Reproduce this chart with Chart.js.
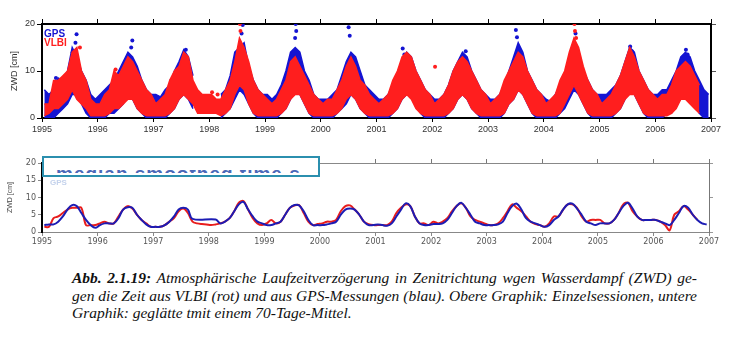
<!DOCTYPE html>
<html>
<head>
<meta charset="utf-8">
<script src="https://cdn.jsdelivr.net/npm/chart.js@4/dist/chart.umd.min.js"></script>
<style>
  html, body { margin: 0; padding: 0; background: #fff; }
  body { width: 732px; height: 341px; position: relative; overflow: hidden; font-family: "Liberation Sans", Arial, sans-serif; }
  #top { position: absolute; left: 0; top: 0; width: 732px; height: 142px; }
  #bot { position: absolute; left: 0; top: 150px; width: 732px; height: 100px; }
  .leg { position: absolute; font-weight: bold; font-size: 10px; line-height: 10px; }
  #box { position: absolute; left: 42px; top: 156px; width: 274px; height: 17px; border: 2px solid #2b8fae; background: #fff; overflow: hidden; }
  #strip { position: absolute; left: 12px; top: 12px; height: 3px; width: 260px; overflow: hidden; }
  #strip span { position: absolute; left: 0; top: -7px; font: bold 19px "Liberation Sans", Arial, sans-serif; color: #4a68b8; white-space: nowrap; letter-spacing: 1px; }
  #cap { position: absolute; left: 72px; top: 269px; width: 625px; font: italic 15.5px "Liberation Serif", "Times New Roman", serif; color: #111; line-height: 17.5px; }
  #cap div { text-align: justify; text-align-last: justify; white-space: nowrap; }
  #cap div.last { text-align-last: left; }
</style>
</head>
<body>
<div id="top"><canvas id="c1"></canvas></div>
<div id="bot"><canvas id="c2"></canvas></div>
<div class="leg" style="left:44px;top:29px;color:#1414d2;">GPS</div>
<div class="leg" style="left:44px;top:38px;color:#ff1e1e;">VLBI</div>
<div id="box"><div id="strip"><span>median smoothed time s</span></div></div>
<div style="position:absolute;left:50px;top:178px;font:bold 8px 'Liberation Sans',Arial;color:#c4d2ec;">GPS</div>
<div id="cap">
  <div><b>Abb. 2.1.19:</b> Atmosphärische Laufzeitverzögerung in Zenitrichtung wgen Wasserdampf (ZWD) ge-</div>
  <div>gen die Zeit aus VLBI (rot) und aus GPS-Messungen (blau). Obere Graphik: Einzelsessionen, untere</div>
  <div class="last">Graphik: geglätte tmit einem 70-Tage-Mittel.</div>
</div>
<script>
// ---------------- DATA ----------------
const years = [1995,1996,1997,1998,1999,2000,2001,2002,2003,2004,2005,2006];
const xTicks = [1995,1996,1997,1998,1999,2000,2001,2002,2003,2004,2005,2006,2007];

// Top panel: monthly spread (low/high) of single-session ZWD values [cm]
const gpsLo = [
  0,0,0,1,2,3,5,5,3,1,0,0,
  0,0,1,1,2,3,5,4,2,1,0,0,
  0,0,0,1,2,4,5,4,2,null,null,null,
  null,null,0,1,2,4,6,5,3,1,0,0,
  0,0,0,1,2,4,6,5,3,1,0,0,
  0,0,0,1,2,3,5,4,2,1,0,0,
  0,0,0,1,2,4,5,5,3,1,0,0,
  0,0,0,1,2,4,5,4,2,1,0,0,
  0,0,0,1,3,4,6,5,3,1,0,0,
  0,0,0,1,2,4,6,5,3,1,0,0,
  0,0,0,1,2,4,6,5,3,1,0,0,
  0,0,1,1,3,4,5,4,3,1,0,0];
const gpsHi = [
  6,5,6,8.5,8,10,15,13,10,8,5,4,
  5,6,7,8,10,12,14,13,11,8,6,5,
  5,4.5,6,7,10,12,14.5,13,9,null,null,null,
  null,null,5,6,9,14,15,16,11,8,6,5,
  5,4,5,7,10,14,15,14,10,8,5,4,
  4,4,5,6,9,12,14,13,10,7,6,5,
  4,4,5,7,9,12,14,13,10,8,6,5,
  4,4,5,7,10,12,14,13,10,8,6,5,
  4,4,5,7,10,13,16,14,10,8,6,5,
  4,3.5,5,7,9,12,15,14,10,8,6,5,
  5,5,6,7,9,12,15,14,10,8,6,5,
  5,6,6,8,10,13,14,13,10,8,6,5];
const vlbiLo = [
  0.5,1,2,2,3,4,6,4,3,2,0.5,0.5,
  0.5,0.5,1,2,2,3,4,4,2,1,0.5,0.5,
  0.5,0.5,0.5,1,2,4,5,4,3,1,1,1,
  1,1,0.5,1,2,5,7,6,3,1,0.5,0.5,
  0.5,0.5,0.5,1,2,4,5,5,3,1,0.5,0.5,
  0.5,0.5,0.5,1,2,4,5,4,2,1,0.5,0.5,
  0.5,0.5,0.5,1,2,4,5,4,2,1,0.5,0.5,
  0.5,0.5,0.5,1,2,4,5,4,2,1,0.5,0.5,
  0.5,0.5,0.5,1,3,4,6,5,3,1,0.5,0.5,
  0.5,0.5,0.5,1,3,5,7,5,3,1,0.5,0.5,
  0.5,0.5,0.5,1,2,4,5,5,3,1,0.5,0.5,
  0.5,0.5,0.5,1,2,4,4,3,2,1,null,null];
const vlbiHi = [
  3,3,8,8,9,10,14,15,10,8,4,3,
  3,5,6,10,9,11,13,12,10,8,6,5,
  3,4,5,8,10,11,14,13,8,6,5,5,
  5,4,4,6,8,12,17,15,12,8,6,5,
  4,3,4,6,8,12,13,11,9,7,5,4,
  3,4,4,6,8,11,13,11,8,7,5,4,
  3,4,5,8,10,13,14,13,10,8,6,5,
  3,4,5,7,10,12,13,12,10,8,6,5,
  3,4,5,8,10,12,14,13,10,8,6,5,
  3,4,5,8,10,14,17,15,11,8,6,5,
  3,4,5,7,9,12,15,13,10,8,6,5,
  4,5,5,7,10,11,12,11,9,7,null,null];

// Top panel: individual high sessions (outliers)
const gpsSpikeT = [1995.25,1995.55,1995.6,1995.62,1996.6,1996.62,1997.32,1997.58,1998.58,1998.6,1999.54,1999.55,1999.56,2000.5,2000.52,2001.47,2001.5,2002.6,2003.5,2003.52,2004.57,2005.55,2005.58,2006.55,2006.58];
const gpsSpikeV = [8.5,14,16,17.8,15,16.5,8,14.5,18,19.8,17,20,18.5,19.3,17.5,14.8,13.5,14.2,18.7,17.2,18,15.2,14.2,14.5,13.5];
const vlbiSpikeT = [1995.68,1996.32,1998.05,1998.15,1998.55,1998.56,2002.05,2004.55,2004.56,2004.58];
const vlbiSpikeV = [15,10.3,5.5,5,20,18.5,10.9,20,18.5,17];

// Bottom panel: 70-day smoothed ZWD [cm], monthly readings
const gpsSmooth = [
  2,2.2,2.2,3,4.5,6.5,7.8,7.5,5.5,3.5,2,1.2,
  2,2.5,2.5,2.5,4,6.5,7.2,7,5,3.5,2.2,1.5,
  1.5,1.5,2,3,4.5,6.5,7,6.5,3.8,null,null,null,
  null,3.6,2.5,3,4,6,8,8.7,6.5,4.5,3,2.5,
  2,2,2.5,3,5,7,7.8,7.7,6,3.5,2,2,
  2,2.2,2.5,3,5,6.5,6.8,6.5,5,3,2,2,
  2.2,2,1.8,2.5,4.5,6.5,8.3,7.5,4.5,2.5,2,2,
  2.3,2.3,2.5,3.5,5.5,7.5,8.5,7,5,3,2.5,2,
  2,2,2.2,3,5.5,7.5,8.2,6.5,4,3,2.5,2,
  1.5,2,3.5,4.5,6.5,8,8.2,6.8,5,3,2.5,2,
  2.5,2.5,2.5,3.5,5.5,7.5,8.5,6.8,4.5,3.5,3.5,3.5,
  3.5,3,2.5,2,3.5,5.5,7.5,7,5,3.5,2.5,2.2];
const vlbiSmooth = [
  1.5,1.5,4,4.5,5.5,6.5,7,7,7,2,2,2,
  2.5,3,2.5,2.5,4.5,6.5,7.5,6.8,5,3.5,2.5,1.5,
  1.5,1.5,2,3,4,6,6.8,5.5,3,2.5,2.3,2.2,
  2,2.2,2.5,3,4,6,8.5,9,6.5,4,2.5,2,
  2.5,3.5,2.5,3,5,7,7.7,7.8,5.5,3,2,2.3,
  2.5,3,3,3.5,6,7.5,7.7,6.5,5,3,2.3,2,
  2,2,2,3,5.5,7,8,7.5,4.5,2.5,2.5,2,
  3,2.5,3,4,6,7.5,8.3,7,4.5,3.5,3,2.5,
  2,2,2.5,4,6,8,7,6,4.5,3,2.3,2,
  1.5,2.5,4.5,4.5,6.5,8,8,7,4.5,3,3.5,3.5,
  3.5,2.5,2.5,3.5,5.5,8,8.5,6,4.5,3.5,3.5,3.5,
  3.5,3,2,0.5,5,6,7.5,6.5,5,3.5,null,null];

// ---------------- BUILD ----------------
const monthT = [];
years.forEach(y => { for (let m = 0; m < 12; m++) monthT.push(y + (m + 0.5) / 12); });
const ser = (V) => monthT.map((t, i) => ({ x: t, y: V[i] }));
const ptData = (T, V) => T.map((t, i) => ({ x: t, y: V[i] }));

const BLUE = '#1414d2', RED = '#ff1e1e';
const fixW = w => s => { s.width = w; };
const fixH = h => s => { s.height = h; };
const yearTicks = s => { s.ticks = xTicks.map(v => ({ value: v })); };

const band = (V, color, order, fill) => ({
  type: 'line', data: ser(V), borderColor: color, backgroundColor: color, borderWidth: 1.5,
  pointRadius: 0, tension: 0, spanGaps: false, fill: fill, order: order
});

// -------- top chart --------
new Chart(document.getElementById('c1'), {
  data: {
    datasets: [
      { type: 'scatter', data: ptData(vlbiSpikeT, vlbiSpikeV), backgroundColor: RED, borderColor: RED, pointRadius: 2, borderWidth: 0, order: 0 },
      band(vlbiHi, RED, 1, '+1'),
      band(vlbiLo, RED, 2, false),
      { type: 'scatter', data: ptData(gpsSpikeT, gpsSpikeV), backgroundColor: BLUE, borderColor: BLUE, pointRadius: 2, borderWidth: 0, order: 3 },
      band(gpsHi, BLUE, 4, '+1'),
      band(gpsLo, BLUE, 5, false)
    ]
  },
  options: {
    responsive: true, maintainAspectRatio: false, animation: false,
    layout: { padding: 0 },
    plugins: { legend: { display: false }, tooltip: { enabled: false } },
    scales: {
      x: { type: 'linear', position: 'bottom', min: 1995, max: 2007, offset: false, afterBuildTicks: yearTicks, afterFit: fixH(24),
           ticks: { font: { size: 9, family: 'Liberation Sans' }, color: '#333', padding: 2, maxRotation: 0, callback: v => String(v) },
           grid: { drawOnChartArea: false, tickLength: 4, color: '#000' }, border: { color: '#000', width: 2 } },
      xt: { type: 'linear', position: 'top', min: 1995, max: 2007, offset: false, afterBuildTicks: yearTicks, afterFit: fixH(24),
           ticks: { callback: () => '' }, grid: { drawOnChartArea: false, tickLength: 5, color: '#000' }, border: { color: '#000', width: 2 } },
      y: { position: 'left', min: 0, max: 20, afterFit: fixW(42),
           ticks: { stepSize: 10, font: { size: 9, family: 'Liberation Sans' }, color: '#333', padding: 2 },
           title: { display: true, text: 'ZWD [cm]', font: { size: 9, family: 'Liberation Sans' }, color: '#333', padding: { top: 9, bottom: 0 } },
           grid: { drawOnChartArea: false, tickLength: 5, color: '#000' }, border: { color: '#000', width: 2 } },
      yr: { position: 'right', min: 0, max: 20, afterFit: fixW(21),
           ticks: { stepSize: 10, callback: () => '' },
           grid: { drawOnChartArea: false, tickLength: 5, color: '#555' }, border: { color: '#000', width: 2 } }
    }
  }
});

// -------- bottom chart --------
new Chart(document.getElementById('c2'), {
  type: 'line',
  data: {
    datasets: [
      { data: ser(gpsSmooth), borderColor: '#1c1cb4', borderWidth: 2, pointRadius: 0, tension: 0.35, spanGaps: true, order: 0 },
      { data: ser(vlbiSmooth), borderColor: '#e81c1c', borderWidth: 2, pointRadius: 0, tension: 0.35, spanGaps: false, order: 1 }
    ]
  },
  options: {
    responsive: true, maintainAspectRatio: false, animation: false,
    layout: { padding: 0 },
    plugins: { legend: { display: false }, tooltip: { enabled: false } },
    scales: {
      x: { type: 'linear', position: 'bottom', min: 1995, max: 2007, afterBuildTicks: yearTicks, afterFit: fixH(18),
           ticks: { font: { size: 8, family: 'DejaVu Sans' }, color: '#555', padding: 1, maxRotation: 0, callback: v => String(v) },
           grid: { drawOnChartArea: false, tickLength: 4, color: '#888' }, border: { color: '#888', width: 1 } },
      xt: { type: 'linear', position: 'top', min: 1995, max: 2007, afterBuildTicks: yearTicks, afterFit: fixH(13),
           ticks: { callback: () => '' }, grid: { drawOnChartArea: false, tickLength: 4, color: '#777' }, border: { color: '#888', width: 1 } },
      y: { position: 'left', min: 0, max: 20, afterFit: fixW(42),
           ticks: { stepSize: 5, font: { size: 8, family: 'DejaVu Sans' }, color: '#555', padding: 2 },
           title: { display: true, text: 'ZWD [cm]', font: { size: 7, family: 'Liberation Sans' }, color: '#444', padding: { top: 6, bottom: 0 } },
           grid: { drawOnChartArea: false, tickLength: 4, color: '#888' }, border: { color: '#000', width: 2 } },
      yr: { position: 'right', min: 0, max: 20, afterFit: fixW(23),
           ticks: { stepSize: 5, callback: () => '' },
           grid: { drawOnChartArea: false, tickLength: 4, color: '#999' }, border: { color: '#777', width: 1 } }
    }
  }
});
</script>
</body>
</html>
